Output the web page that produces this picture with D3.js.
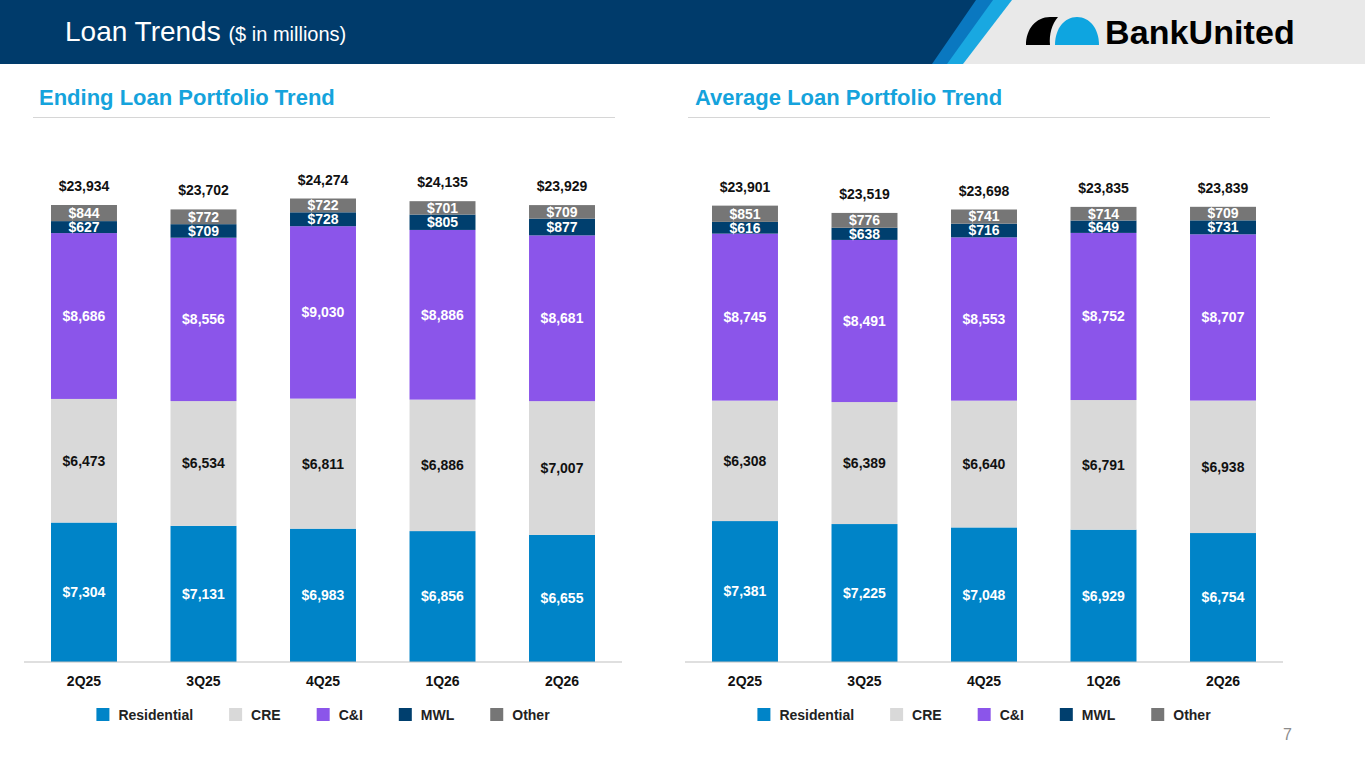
<!DOCTYPE html>
<html>
<head>
<meta charset="utf-8">
<script src="https://cdn.jsdelivr.net/npm/d3@7"></script>
<style>
  html, body { margin: 0; padding: 0; background: #fff; }
  svg { display: block; font-family: "Liberation Sans", Arial, sans-serif; }
</style>
</head>
<body>
<script>
// ---- data ----
const quarters = ["2Q25", "3Q25", "4Q25", "1Q26", "2Q26"];
const segments = ["Residential", "CRE", "C&I", "MWL", "Other"];

const endingResidential = [7304, 7131, 6983, 6856, 6655];
const endingCRE = [6473, 6534, 6811, 6886, 7007];
const endingCI = [8686, 8556, 9030, 8886, 8681];
const endingMWL = [627, 709, 728, 805, 877];
const endingOther = [844, 772, 722, 701, 709];
const endingTotal = [23934, 23702, 24274, 24135, 23929];

const avgResidential = [7381, 7225, 7048, 6929, 6754];
const avgCRE = [6308, 6389, 6640, 6791, 6938];
const avgCI = [8745, 8491, 8553, 8752, 8707];
const avgMWL = [616, 638, 716, 649, 731];
const avgOther = [851, 776, 741, 714, 709];
const avgTotal = [23901, 23519, 23698, 23835, 23839];

const segColor = d3.scaleOrdinal()
  .domain(segments)
  .range(["#0084c8", "#d9d9d9", "#8b55ea", "#003f6e", "#767676"]);
const labelColor = s => s === "CRE" ? "#111" : "#fff";

const fmt = v => "$" + d3.format(",")(v);

const W = 1365, H = 768;
const svg = d3.select("body").append("svg")
  .attr("width", W).attr("height", H);

// ---- header ----
svg.append("rect").attr("x", 0).attr("y", 0).attr("width", W).attr("height", 64).attr("fill", "#e9e9e9");
svg.append("path").attr("d", "M0,0 L1012,0 L963,64 L0,64 Z").attr("fill", "#19a8e1");
svg.append("path").attr("d", "M0,0 L993,0 L947,64 L0,64 Z").attr("fill", "#0a78c0");
svg.append("path").attr("d", "M0,0 L976,0 L932,64 L0,64 Z").attr("fill", "#003b6b");

const title = svg.append("text").attr("x", 65).attr("y", 41).attr("fill", "#fff");
title.append("tspan").attr("font-size", 28).text("Loan Trends ");
title.append("tspan").attr("font-size", 20).text("($ in millions)");

// logo
const logo = svg.append("g");
logo.append("path")
  .attr("d", "M1026,45 C1026,29 1036,17 1050,17 L1058,17 C1052,24 1049,34 1050,45 Z")
  .attr("fill", "#000");
logo.append("path")
  .attr("d", "M1055,45 C1055,29 1064,17 1077,17 C1090,17 1099,29 1099,45 Z")
  .attr("fill", "#0ea5e0");
logo.append("text")
  .attr("x", 1105).attr("y", 44)
  .attr("font-size", 34).attr("font-weight", "bold")
  .attr("letter-spacing", 0.1)
  .attr("fill", "#000")
  .text("BankUnited");

// page number
svg.append("text").attr("x", 1283).attr("y", 740)
  .attr("font-size", 16).attr("fill", "#8c8c8c").text("7");

// ---- charts ----
const y = d3.scaleLinear().domain([0, 25000]).range([662, 662 - 25000 * 457 / 23934]);

function drawChart(opts) {
  const g = svg.append("g");

  // section title + rule
  g.append("text")
    .attr("x", opts.titleX).attr("y", 105)
    .attr("font-size", 22).attr("font-weight", "bold")
    .attr("fill", "#15a3dc")
    .text(opts.title);
  g.append("line")
    .attr("x1", opts.ruleX0).attr("x2", opts.ruleX0 + 582)
    .attr("y1", 117.5).attr("y2", 117.5)
    .attr("stroke", "#d6d6d6").attr("stroke-width", 1.2);

  const x = d3.scaleBand()
    .domain(quarters)
    .range([opts.axisX0, opts.axisX0 + 598])
    .paddingInner(0.448)
    .paddingOuter(0.226);

  const table = quarters.map((q, i) => {
    const row = { q };
    segments.forEach((s, j) => row[s] = opts.series[j][i]);
    return row;
  });
  const stacked = d3.stack().keys(segments)(table);

  const layers = g.append("g").selectAll("g")
    .data(stacked)
    .join("g")
    .attr("fill", d => segColor(d.key));

  layers.selectAll("rect")
    .data(d => d)
    .join("rect")
    .attr("x", d => x(d.data.q))
    .attr("width", x.bandwidth())
    .attr("y", d => y(d[1]))
    .attr("height", d => y(d[0]) - y(d[1]));

  // segment labels
  const lab = g.append("g")
    .attr("font-size", 14).attr("font-weight", "bold")
    .attr("text-anchor", "middle");
  stacked.forEach(layer => {
    lab.selectAll(null)
      .data(layer)
      .join("text")
      .attr("x", d => x(d.data.q) + x.bandwidth() / 2)
      .attr("y", d => (y(d[0]) + y(d[1])) / 2)
      .attr("dy", "0.35em")
      .attr("fill", labelColor(layer.key))
      .text(d => fmt(d.data[layer.key]));
  });

  // totals
  g.append("g")
    .attr("font-size", 14).attr("font-weight", "bold")
    .attr("text-anchor", "middle").attr("fill", "#111")
    .selectAll("text")
    .data(quarters)
    .join("text")
    .attr("x", q => x(q) + x.bandwidth() / 2)
    .attr("y", (q, i) => y(stacked[stacked.length - 1][i][1]) - 14)
    .text((q, i) => fmt(opts.totals[i]));

  // axis
  const axis = g.append("g")
    .attr("transform", "translate(0,662)")
    .call(d3.axisBottom(x).tickSize(0).tickPadding(14));
  axis.select(".domain").attr("stroke", "#bfbfbf").attr("stroke-width", 1.2)
    .attr("d", `M${opts.axisX0},0H${opts.axisX0 + 598}`);
  axis.selectAll(".tick text")
    .attr("font-size", 14).attr("font-weight", "bold")
    .attr("fill", "#111")
    .attr("font-family", "Liberation Sans, Arial, sans-serif");

  // legend
  const cx = opts.axisX0 + 299;
  const leg = g.append("g").attr("font-size", 14).attr("font-weight", "bold").attr("fill", "#222");
  const items = segments.map(s => {
    const it = leg.append("g");
    it.append("rect").attr("width", 13).attr("height", 13).attr("y", 708).attr("fill", segColor(s));
    const t = it.append("text").attr("x", 22).attr("y", 720).text(s);
    return { it, w: 22 + t.node().getComputedTextLength() };
  });
  const gap = 36;
  const total = d3.sum(items, d => d.w) + gap * (items.length - 1);
  let cur = cx - total / 2;
  items.forEach(d => {
    d.it.attr("transform", `translate(${cur},0)`);
    cur += d.w + gap;
  });
}

drawChart({
  title: "Ending Loan Portfolio Trend",
  titleX: 39, ruleX0: 33, axisX0: 24,
  series: [endingResidential, endingCRE, endingCI, endingMWL, endingOther],
  totals: endingTotal
});

drawChart({
  title: "Average Loan Portfolio Trend",
  titleX: 695, ruleX0: 688, axisX0: 685,
  series: [avgResidential, avgCRE, avgCI, avgMWL, avgOther],
  totals: avgTotal
});
</script>
</body>
</html>
